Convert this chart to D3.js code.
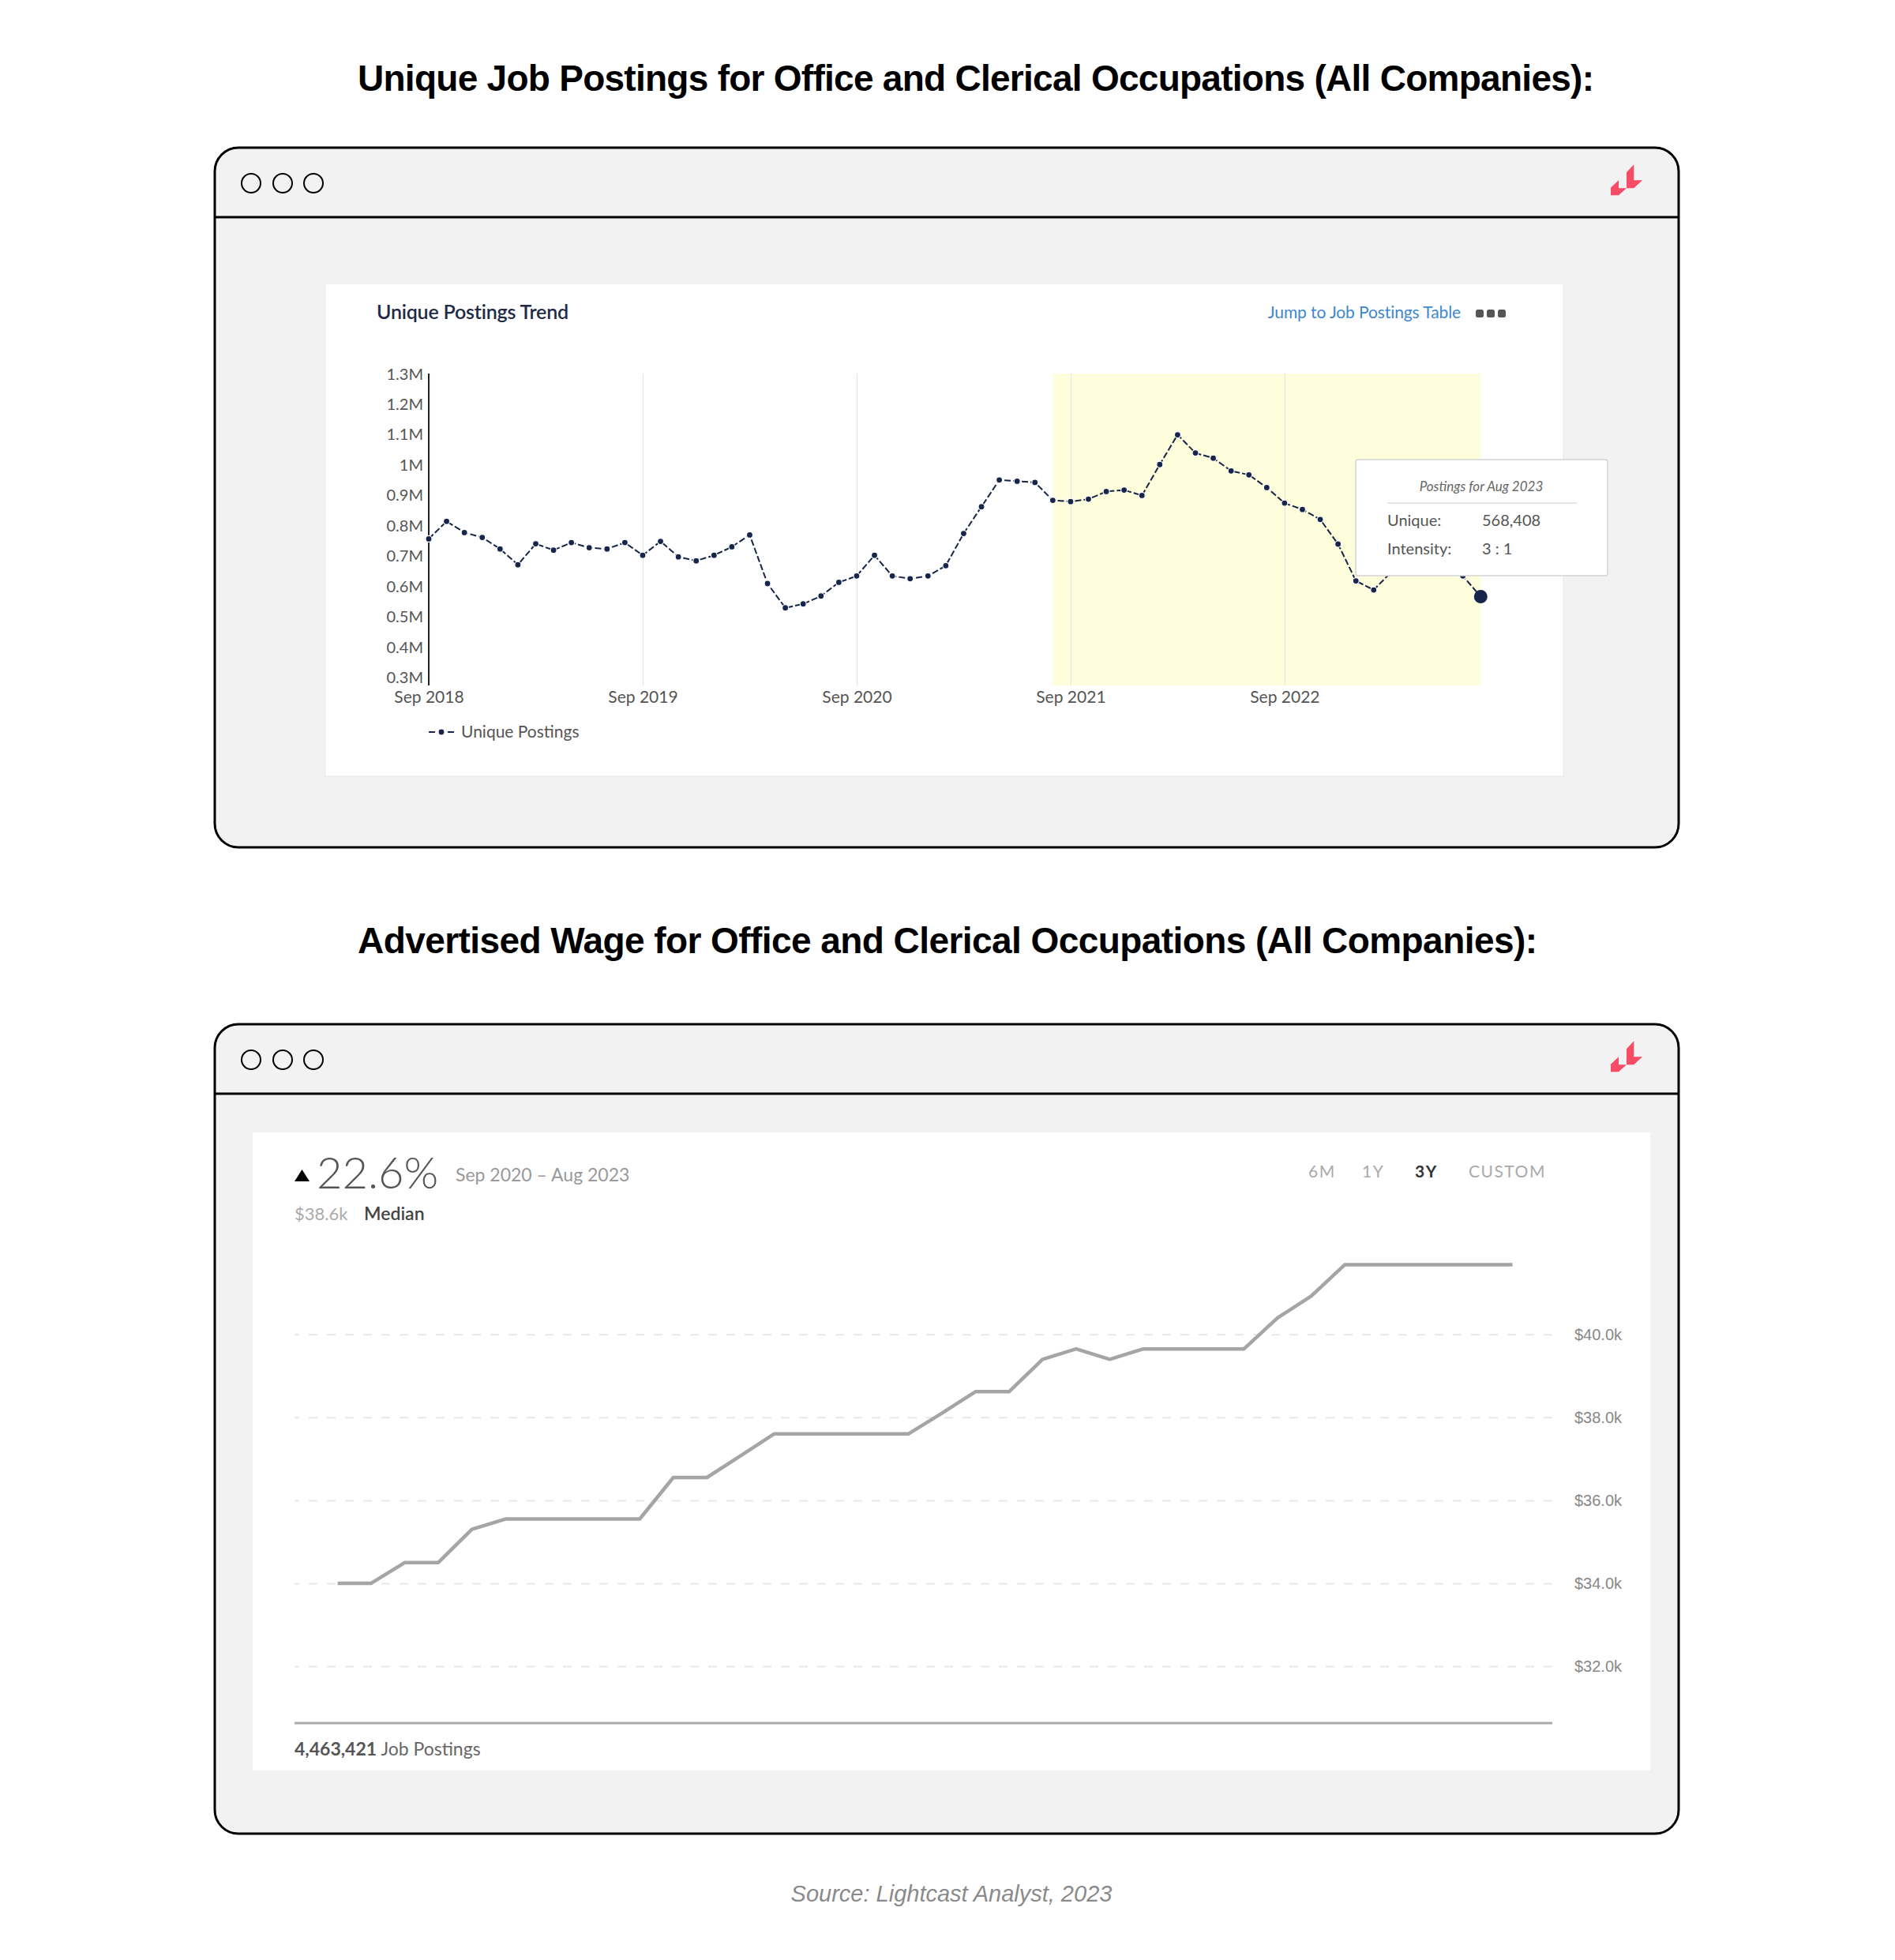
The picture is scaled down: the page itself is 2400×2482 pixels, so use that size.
<!DOCTYPE html>
<html>
<head>
<meta charset="utf-8">
<script src="https://cdn.jsdelivr.net/npm/d3@7"></script>
<style>
  html, body { margin: 0; padding: 0; background: #ffffff; }
  svg { display: block; }
</style>
</head>
<body>
<div id="chart"></div>
<script>
// ---------------- DATA ----------------
const titleTop = "Unique Job Postings for Office and Clerical Occupations (All Companies):";
const titleBottom = "Advertised Wage for Office and Clerical Occupations (All Companies):";
const sourceText = "Source: Lightcast Analyst, 2023";

// Unique postings, monthly Sep 2018 .. Aug 2023 (millions)
const postingMonths = d3.timeMonth.range(new Date(2018, 8, 1), new Date(2023, 8, 1));
const uniquePostings = [
  0.758, 0.816, 0.779, 0.763, 0.725, 0.673, 0.742, 0.721, 0.746, 0.729, 0.725, 0.746,
  0.704, 0.750, 0.699, 0.686, 0.704, 0.732, 0.771, 0.611, 0.531, 0.544, 0.570, 0.615,
  0.636, 0.704, 0.636, 0.627, 0.636, 0.670, 0.776, 0.864, 0.952, 0.948, 0.944, 0.885,
  0.881, 0.889, 0.914, 0.919, 0.901, 1.003, 1.101, 1.041, 1.024, 0.982, 0.969, 0.927,
  0.876, 0.855, 0.822, 0.741, 0.620, 0.590, 0.650, 0.686, 0.699, 0.681, 0.636, 0.568
];
const postingYTicks = [0.3, 0.4, 0.5, 0.6, 0.7, 0.8, 0.9, 1.0, 1.1, 1.2, 1.3];
const postingXTickLabels = ["Sep 2018", "Sep 2019", "Sep 2020", "Sep 2021", "Sep 2022"];
const highlightStart = "Aug 2021";
const highlightEnd = "Aug 2023";
const tooltipTitle = "Postings for Aug 2023";
const tooltipRows = [["Unique:", "568,408"], ["Intensity:", "3 : 1"]];

// Advertised wage, monthly Sep 2020 .. Aug 2023 (thousand $)
const wageMonths = d3.timeMonth.range(new Date(2020, 8, 1), new Date(2023, 8, 1));
const medianWage = [
  34.0, 34.0, 34.5, 34.5, 35.3, 35.55, 35.55, 35.55, 35.55, 35.55, 36.55, 36.55,
  37.07, 37.6, 37.6, 37.6, 37.6, 37.6, 38.1, 38.62, 38.62, 39.4, 39.65, 39.4,
  39.65, 39.65, 39.65, 39.65, 40.4, 40.92, 41.68, 41.68, 41.68, 41.68, 41.68, 41.68
];
const wageYTicks = [32, 34, 36, 38, 40];
const rangeButtons = ["6M", "1Y", "3Y", "CUSTOM"];
const activeRange = "3Y";
const wageChange = "22.6%";
const wagePeriod = "Sep 2020 \u2013 Aug 2023";
const wageMedian = "$38.6k";
const jobPostingsTotal = "4,463,421";

// ---------------- DRAWING ----------------
const W = 2400, H = 2482;
const svg = d3.select("#chart").append("svg").attr("width", W).attr("height", H);
svg.append("rect").attr("width", W).attr("height", H).attr("fill", "#ffffff");

const fmtMonth = d3.timeFormat("%b %Y");
const UI = "Lato, 'Open Sans', sans-serif";
const NAVY = "#17254a";

function fitTitle(text, x, y, targetWidth) {
  const t = svg.append("text").attr("x", x).attr("y", y)
    .attr("font-family", "'Liberation Sans', Arial, sans-serif")
    .attr("font-weight", 700).attr("font-size", 46).attr("fill", "#000")
    .text(text);
  const natural = t.node().getComputedTextLength();
  const ls = (targetWidth - natural) / (text.length - 1);
  t.attr("letter-spacing", ls);
  return t;
}

function windowFrame(x, y, w, h) {
  const g = svg.append("g");
  g.append("rect").attr("x", x).attr("y", y).attr("width", w).attr("height", h)
    .attr("rx", 30).attr("ry", 30).attr("fill", "#f2f2f2").attr("stroke", "#000").attr("stroke-width", 3);
  g.append("line").attr("x1", x).attr("x2", x + w).attr("y1", y + 88).attr("y2", y + 88)
    .attr("stroke", "#000").attr("stroke-width", 3);
  [46, 86, 125].forEach(dx => {
    g.append("circle").attr("cx", x + dx).attr("cy", y + 45).attr("r", 12)
      .attr("fill", "none").attr("stroke", "#000").attr("stroke-width", 2);
  });
  // logo
  const lx = x + w, ly = y;
  const left = [[-86, 50.7], [-76, 41.3], [-76, 51.3], [-66, 51.3], [-76, 60.3], [-86, 60.3]];
  const right = [[-66, 31.3], [-56.7, 21.3], [-56.7, 41.3], [-46, 41.3], [-56.7, 51.3], [-66, 51.3]];
  [left, right].forEach(p => {
    g.append("polygon").attr("points", p.map(d => [lx + d[0], ly + d[1]].join(",")).join(" "))
      .attr("fill", "#f64c66");
  });
  return g;
}

// ---------- Top section ----------
fitTitle(titleTop, 453, 115, 1566);
windowFrame(272, 187, 1854, 886);

// white panel
svg.append("rect").attr("x", 412).attr("y", 359).attr("width", 1568).attr("height", 624)
  .attr("fill", "#fff").attr("stroke", "#e9e9e9").attr("stroke-width", 1);

svg.append("text").attr("x", 477).attr("y", 404).attr("font-family", UI).attr("font-size", 25)
  .attr("font-weight", 600).attr("letter-spacing", -0.2).attr("fill", "#1f2b46").text("Unique Postings Trend");
svg.append("text").attr("x", 1850).attr("y", 403).attr("text-anchor", "end").attr("font-family", UI)
  .attr("font-size", 21).attr("letter-spacing", -0.1).attr("fill", "#3f87d0").text("Jump to Job Postings Table");
[1874, 1888, 1902].forEach(cx => {
  svg.append("rect").attr("x", cx - 5).attr("y", 392).attr("width", 10).attr("height", 10)
    .attr("rx", 2.5).attr("fill", "#555");
});

const xP = d3.scaleLinear().domain([0, uniquePostings.length - 1]).range([543, 1875.3]);
const yP = d3.scaleLinear().domain([0.3, 1.3]).range([858.6, 474]);
const plotTop = 473, plotBottom = 868;
const idxOf = lbl => postingMonths.findIndex(m => fmtMonth(m) === lbl);

// highlight band
svg.append("rect").attr("x", xP(idxOf(highlightStart))).attr("y", plotTop)
  .attr("width", xP(idxOf(highlightEnd)) - xP(idxOf(highlightStart))).attr("height", plotBottom - plotTop)
  .attr("fill", "#fffedc");

// vertical gridlines + x labels
const gX = svg.append("g").attr("transform", `translate(0,${plotBottom})`);
const tickIdx = postingXTickLabels.map(idxOf);
gX.call(d3.axisBottom(xP).tickValues(tickIdx).tickSize(-(plotBottom - plotTop))
  .tickFormat(i => fmtMonth(postingMonths[i])));
gX.select(".domain").remove();
gX.selectAll(".tick line").attr("stroke", "#e6e6e6").attr("stroke-width", 1.2);
gX.selectAll(".tick text").attr("font-family", UI).attr("font-size", 21).attr("fill", "#555")
  .attr("y", 7).attr("dy", "0.71em");

// y axis
const gY = svg.append("g").attr("transform", "translate(543,0)");
gY.call(d3.axisLeft(yP).tickValues(postingYTicks).tickSize(0).tickPadding(7)
  .tickFormat(v => (Math.round(v * 10) / 10) + "M"));
gY.select(".domain").remove();
gY.selectAll(".tick text").attr("font-family", UI).attr("font-size", 20).attr("fill", "#555")
  .attr("dy", "0.35em").attr("y", -1);
svg.append("line").attr("x1", 543).attr("x2", 543).attr("y1", plotTop).attr("y2", plotBottom)
  .attr("stroke", "#222").attr("stroke-width", 2);

// series line
const lineP = d3.line().x((d, i) => xP(i)).y(d => yP(d));
svg.append("path").datum(uniquePostings).attr("d", lineP).attr("fill", "none")
  .attr("stroke", NAVY).attr("stroke-width", 2).attr("stroke-dasharray", "8,3");
svg.append("g").selectAll("circle").data(uniquePostings.slice(0, -1)).join("circle")
  .attr("cx", (d, i) => xP(i)).attr("cy", d => yP(d)).attr("r", 4)
  .attr("fill", NAVY).attr("stroke", "#fff").attr("stroke-width", 1.2);

// tooltip
const tt = svg.append("g");
tt.append("rect").attr("x", 1717).attr("y", 582).attr("width", 319).attr("height", 147).attr("rx", 3)
  .attr("fill", "#fff").attr("stroke", "#d4d4d4").attr("stroke-width", 1.5);
tt.append("text").attr("x", 1876).attr("y", 622).attr("text-anchor", "middle").attr("font-family", UI)
  .attr("font-style", "italic").attr("font-size", 17).attr("fill", "#666").text(tooltipTitle);
tt.append("line").attr("x1", 1757).attr("x2", 1997).attr("y1", 637).attr("y2", 637)
  .attr("stroke", "#ccc").attr("stroke-width", 1.2);
tooltipRows.forEach((r, i) => {
  tt.append("text").attr("x", 1757).attr("y", 666 + i * 36).attr("font-family", UI).attr("font-size", 20)
    .attr("fill", "#555").text(r[0]);
  tt.append("text").attr("x", 1877).attr("y", 666 + i * 36).attr("font-family", UI).attr("font-size", 20)
    .attr("fill", "#555").text(r[1]);
});
// last point
const last = uniquePostings.length - 1;
svg.append("circle").attr("cx", xP(last)).attr("cy", yP(uniquePostings[last])).attr("r", 8.5).attr("fill", NAVY);

// legend
svg.append("line").attr("x1", 543).attr("x2", 575).attr("y1", 927).attr("y2", 927)
  .attr("stroke", NAVY).attr("stroke-width", 2).attr("stroke-dasharray", "8,4");
svg.append("circle").attr("cx", 559).attr("cy", 927).attr("r", 4).attr("fill", NAVY)
  .attr("stroke", "#fff").attr("stroke-width", 1.2);
svg.append("text").attr("x", 584).attr("y", 934).attr("font-family", UI).attr("font-size", 21)
  .attr("fill", "#555").text("Unique Postings");

// ---------- Bottom section ----------
fitTitle(titleBottom, 453, 1207, 1494);
windowFrame(272, 1297, 1854, 1025);

svg.append("rect").attr("x", 320).attr("y", 1434).attr("width", 1770).attr("height", 808).attr("fill", "#fff");

svg.append("polygon").attr("points", "373,1496 392,1496 382.5,1481").attr("fill", "#000");
svg.append("text").attr("x", 401).attr("y", 1505).attr("font-family", UI).attr("font-weight", 300)
  .attr("font-size", 56).attr("fill", "#555").text(wageChange);
svg.append("text").attr("x", 577).attr("y", 1496).attr("font-family", UI).attr("font-size", 23)
  .attr("fill", "#999").text(wagePeriod);
svg.append("text").attr("x", 373).attr("y", 1545).attr("font-family", UI).attr("font-size", 22)
  .attr("fill", "#aaa").text(wageMedian);
svg.append("text").attr("x", 461).attr("y", 1545).attr("font-family", UI).attr("font-size", 23)
  .attr("font-weight", 600).attr("fill", "#444").text("Median");

const btnX = [1657, 1725, 1792, 1860];
rangeButtons.forEach((b, i) => {
  svg.append("text").attr("x", btnX[i]).attr("y", 1491).attr("font-family", UI).attr("font-size", 21)
    .attr("letter-spacing", 1.5).attr("font-weight", b === activeRange ? 700 : 400)
    .attr("fill", b === activeRange ? "#333" : "#aaa").text(b);
});

const xW = d3.scaleLinear().domain([0, medianWage.length - 1]).range([427.6, 1915.6]);
const yW = d3.scaleLinear().domain([32, 40]).range([2110, 1689.8]);

const gW = svg.append("g").attr("transform", "translate(1966,0)");
gW.call(d3.axisLeft(yW).tickValues(wageYTicks).tickSize(1966 - 373).tickPadding(0)
  .tickFormat(v => "$" + d3.format(".1f")(v) + "k"));
gW.select(".domain").remove();
gW.selectAll(".tick line").attr("stroke", "#e8e8e8").attr("stroke-width", 2).attr("stroke-dasharray", "11,12");
gW.selectAll(".tick text").attr("x", 28).attr("text-anchor", "start")
  .attr("font-family", "'Liberation Sans', Arial, sans-serif").attr("font-size", 20).attr("fill", "#888");

svg.append("line").attr("x1", 373).attr("x2", 1966).attr("y1", 2182).attr("y2", 2182)
  .attr("stroke", "#aaa").attr("stroke-width", 3);

const lineW = d3.line().x((d, i) => xW(i)).y(d => yW(d));
svg.append("path").datum(medianWage).attr("d", lineW).attr("fill", "none")
  .attr("stroke", "#a5a5a5").attr("stroke-width", 4.5).attr("stroke-linejoin", "round");

const jp = svg.append("text").attr("x", 373).attr("y", 2223).attr("font-family", UI).attr("font-size", 23)
  .attr("fill", "#555");
jp.append("tspan").attr("font-weight", 700).text(jobPostingsTotal);
jp.append("tspan").attr("fill", "#666").text(" Job Postings");

// source
svg.append("text").attr("x", 1205).attr("y", 2408).attr("text-anchor", "middle")
  .attr("font-family", "'Liberation Sans', Arial, sans-serif").attr("font-style", "italic")
  .attr("font-size", 29).attr("fill", "#8a8a8a").text(sourceText);
</script>
</body>
</html>
